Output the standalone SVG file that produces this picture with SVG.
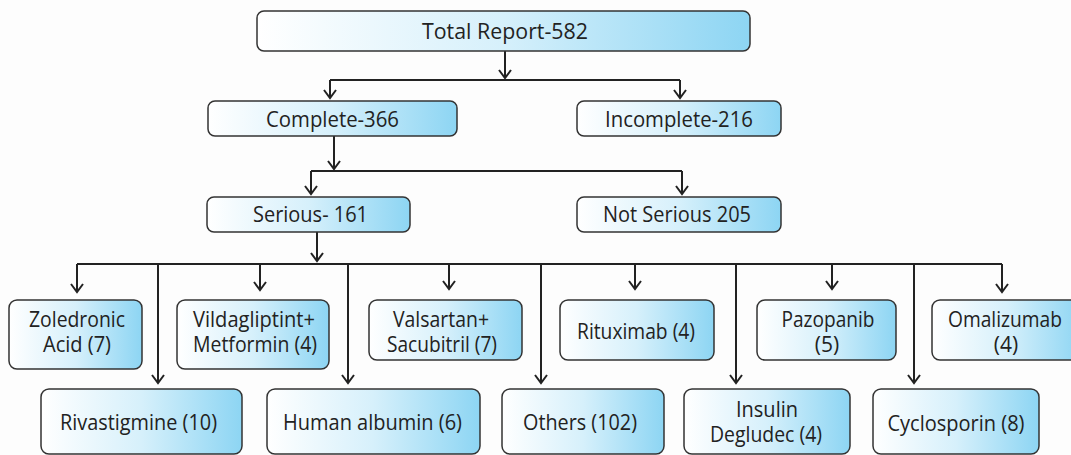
<svg xmlns="http://www.w3.org/2000/svg" width="1071" height="455" viewBox="0 0 1071 455">
<defs>
<linearGradient id="g" x1="0" y1="0" x2="1" y2="0">
<stop offset="0" stop-color="#ffffff"/>
<stop offset="0.5" stop-color="#d6f0fb"/>
<stop offset="1" stop-color="#8dd5f3"/>
</linearGradient>
<marker id="arr" markerUnits="userSpaceOnUse" markerWidth="20" markerHeight="20" viewBox="-10 -10 20 20" refX="0" refY="0" orient="auto">
<path d="M-8,-6 L0,0 L-8,6" fill="none" stroke="#222" stroke-width="2"/>
</marker>
<style>
.box{fill:url(#g);stroke:#333;stroke-width:1.5}
.t{font-family:"Open Sans","Noto Sans","DejaVu Sans",sans-serif;font-size:21px;fill:#222;text-anchor:middle}
.c{fill:none;stroke:#222;stroke-width:2}
.a{fill:none;stroke:#222;stroke-width:2;marker-end:url(#arr)}
</style>
</defs>
<rect width="1071" height="455" fill="#fdfdfd"/>
<g id="connectors">
<path class="a" d="M505,51 V78"/>
<path class="c" d="M330,80 H680"/>
<path class="a" d="M330,80 V98"/>
<path class="a" d="M680,80 V98"/>
<path class="a" d="M334,136 V169"/>
<path class="c" d="M311,171 H682"/>
<path class="a" d="M311,171 V194"/>
<path class="a" d="M682,171 V194"/>
<path class="a" d="M317,232 V261"/>
<path class="c" d="M77,264 H1002"/>
<path class="a" d="M77,264 V292"/>
<path class="a" d="M260,264 V290"/>
<path class="a" d="M449,264 V289"/>
<path class="a" d="M635,264 V289"/>
<path class="a" d="M832,264 V289"/>
<path class="a" d="M1002,264 V292"/>
<path class="a" d="M158,264 V383"/>
<path class="a" d="M348,264 V383"/>
<path class="a" d="M541,264 V383"/>
<path class="a" d="M736,264 V383"/>
<path class="a" d="M914,264 V383"/>
</g>
<g id="total"><rect class="box" x="257" y="11" width="493" height="40" rx="7"/><text class="t" x="505" y="39" textLength="166" lengthAdjust="spacingAndGlyphs">Total Report-582</text></g>
<g id="complete"><rect class="box" x="208" y="101" width="249" height="35" rx="7"/><text class="t" x="332.5" y="127" textLength="133" lengthAdjust="spacingAndGlyphs">Complete-366</text></g>
<g id="incomplete"><rect class="box" x="577" y="101" width="204" height="35" rx="7"/><text class="t" x="679" y="127" textLength="148" lengthAdjust="spacingAndGlyphs">Incomplete-216</text></g>
<g id="serious"><rect class="box" x="207" y="197" width="203" height="35" rx="7"/><text class="t" x="310.5" y="222" textLength="115" lengthAdjust="spacingAndGlyphs">Serious- 161</text></g>
<g id="notserious"><rect class="box" x="577" y="197" width="204" height="35" rx="7"/><text class="t" x="677" y="222" textLength="148" lengthAdjust="spacingAndGlyphs">Not Serious 205</text></g>
<g id="zoledronic"><rect class="box" x="9" y="300" width="133" height="69" rx="8"/><text class="t" x="77" y="327" textLength="96" lengthAdjust="spacingAndGlyphs">Zoledronic</text><text class="t" x="77" y="352" textLength="68" lengthAdjust="spacingAndGlyphs">Acid (7)</text></g>
<g id="vildagliptin"><rect class="box" x="177" y="300" width="152" height="69" rx="8"/><text class="t" x="254" y="327" textLength="122" lengthAdjust="spacingAndGlyphs">Vildagliptint+</text><text class="t" x="255" y="352" textLength="124" lengthAdjust="spacingAndGlyphs">Metformin (4)</text></g>
<g id="valsartan"><rect class="box" x="369" y="300" width="153" height="60" rx="8"/><text class="t" x="441" y="327" textLength="96" lengthAdjust="spacingAndGlyphs">Valsartan+</text><text class="t" x="442" y="352" textLength="110" lengthAdjust="spacingAndGlyphs">Sacubitril (7)</text></g>
<g id="rituximab"><rect class="box" x="560" y="300" width="154" height="60" rx="8"/><text class="t" x="636" y="339" textLength="118" lengthAdjust="spacingAndGlyphs">Rituximab (4)</text></g>
<g id="pazopanib"><rect class="box" x="757" y="300" width="139" height="60" rx="8"/><text class="t" x="828" y="327" textLength="93" lengthAdjust="spacingAndGlyphs">Pazopanib</text><text class="t" x="827" y="352">(5)</text></g>
<g id="omalizumab"><rect class="box" x="932" y="300" width="150" height="60" rx="8"/><text class="t" x="1005" y="327" textLength="114" lengthAdjust="spacingAndGlyphs">Omalizumab</text><text class="t" x="1006" y="352">(4)</text></g>
<g id="rivastigmine"><rect class="box" x="41" y="389" width="201" height="65" rx="8"/><text class="t" x="138.5" y="430" textLength="157" lengthAdjust="spacingAndGlyphs">Rivastigmine (10)</text></g>
<g id="humanalbumin"><rect class="box" x="267" y="389" width="213" height="65" rx="8"/><text class="t" x="372.5" y="430" textLength="179" lengthAdjust="spacingAndGlyphs">Human albumin (6)</text></g>
<g id="others"><rect class="box" x="502" y="389" width="162" height="65" rx="8"/><text class="t" x="580" y="430" textLength="114" lengthAdjust="spacingAndGlyphs">Others (102)</text></g>
<g id="insulin"><rect class="box" x="684" y="389" width="166" height="65" rx="8"/><text class="t" x="767" y="417" textLength="62" lengthAdjust="spacingAndGlyphs">Insulin</text><text class="t" x="766" y="442" textLength="112" lengthAdjust="spacingAndGlyphs">Degludec (4)</text></g>
<g id="cyclosporin"><rect class="box" x="873" y="389" width="166" height="65" rx="8"/><text class="t" x="956" y="431" textLength="137" lengthAdjust="spacingAndGlyphs">Cyclosporin (8)</text></g>
</svg>
